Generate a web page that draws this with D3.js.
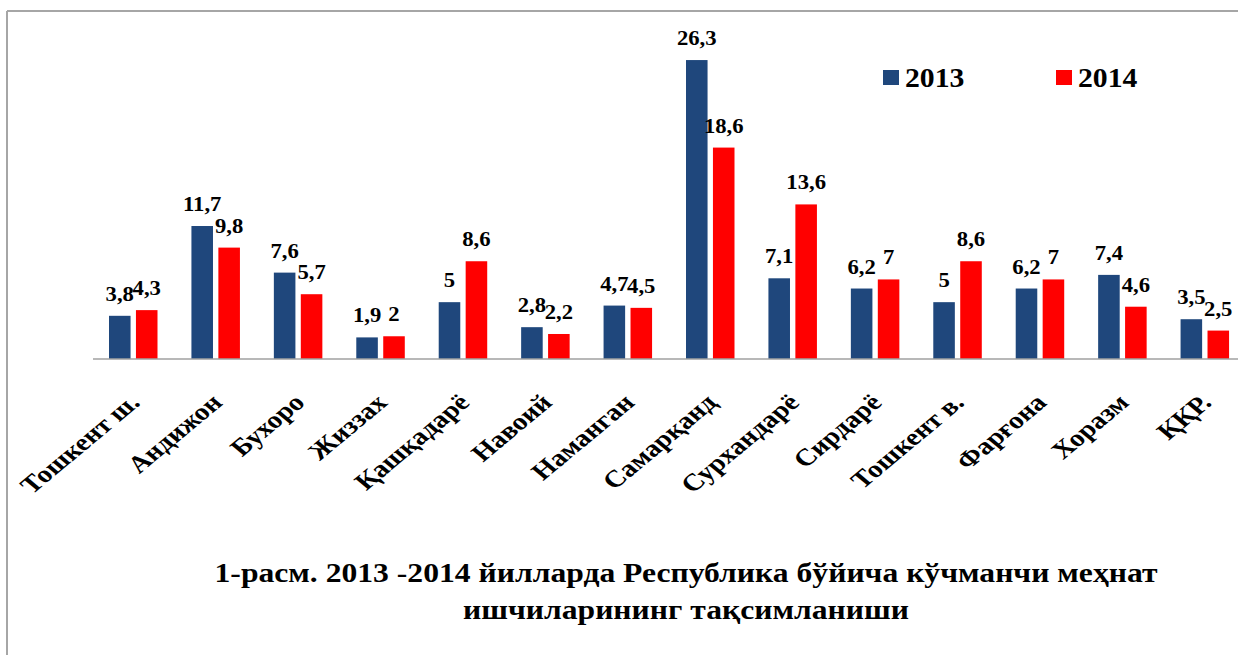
<!DOCTYPE html>
<html>
<head>
<meta charset="utf-8">
<script src="https://cdnjs.cloudflare.com/ajax/libs/d3/7.8.5/d3.min.js"></script>
<style>
  body { margin: 0; background: #fff; }
  text { font-family: "Liberation Serif", "Times New Roman", serif; font-weight: bold; fill: #000; }
</style>
</head>
<body>
<div id="chart-area"></div>
<script>
var regions = ["Тошкент ш.", "Андижон", "Бухоро", "Жиззах", "Қашқадарё", "Навоий", "Наманган",
               "Самарқанд", "Сурхандарё", "Сирдарё", "Тошкент в.", "Фарғона", "Хоразм", "ҚҚР."];
var series = ["2013", "2014"];
var values2013 = [3.8, 11.7, 7.6, 1.9, 5, 2.8, 4.7, 26.3, 7.1, 6.2, 5, 6.2, 7.4, 3.5];
var values2014 = [4.3, 9.8, 5.7, 2, 8.6, 2.2, 4.5, 18.6, 13.6, 7, 8.6, 7, 4.6, 2.5];
var titleLines = ["1-расм. 2013 -2014 йилларда Республика бўйича кўчманчи меҳнат",
                  "ишчиларининг тақсимланиши"];

var colors = { "2013": "#1f477c", "2014": "#ff0000" };

var W = 1238, H = 655;
var plot = { left: 93, right: 1247, top: 18, bottom: 359 };

var svg = d3.select("#chart-area")
    .append("svg")
        .attr("width", W)
        .attr("height", H);

// frame (left and top edges only are visible)
svg.append("line")
    .attr("x1", 7).attr("y1", 11).attr("x2", 7).attr("y2", H)
    .attr("stroke", "#a6a6a6").attr("stroke-width", 2);
svg.append("line")
    .attr("x1", 7).attr("y1", 11).attr("x2", W).attr("y2", 11)
    .attr("stroke", "#a6a6a6").attr("stroke-width", 2);

// scales
var x0 = d3.scaleBand()
    .domain(regions)
    .range([plot.left, plot.right]);

var x1 = d3.scaleBand()
    .domain(series)
    .range([16, 64.5])
    .paddingInner(0.2);

var y = d3.scaleLinear()
    .domain([0, 30])
    .range([plot.bottom, plot.top]);

var data = regions.map(function(r, i) {
    return { region: r, vals: [
        { key: "2013", value: values2013[i] },
        { key: "2014", value: values2014[i] }
    ] };
});

// bars
var groups = svg.selectAll("g.group")
    .data(data)
    .enter().append("g")
        .attr("class", "group")
        .attr("transform", function(d) { return "translate(" + x0(d.region) + ",0)"; });

groups.selectAll("rect")
    .data(function(d) { return d.vals; })
    .enter().append("rect")
        .attr("x", function(d) { return x1(d.key); })
        .attr("y", function(d) { return y(d.value); })
        .attr("width", x1.bandwidth())
        .attr("height", function(d) { return y(0) - y(d.value); })
        .attr("fill", function(d) { return colors[d.key]; });

// value labels
groups.selectAll("text.val")
    .data(function(d) { return d.vals; })
    .enter().append("text")
        .attr("class", "val")
        .attr("text-anchor", "middle")
        .attr("font-size", "21px")
        .attr("transform", function(d) {
            return "translate(" + (x1(d.key) + x1.bandwidth() / 2) + "," + (y(d.value) - 15) + ") scale(1.08,1)";
        })
        .text(function(d) { return String(d.value).replace(".", ","); });

// x axis line
svg.append("line")
    .attr("x1", plot.left).attr("x2", plot.right)
    .attr("y1", y(0)).attr("y2", y(0))
    .attr("stroke", "#a0a0a0").attr("stroke-width", 1.5);

// category labels
svg.selectAll("text.cat")
    .data(regions)
    .enter().append("text")
        .attr("class", "cat")
        .attr("text-anchor", "end")
        .attr("font-size", "24px")
        .attr("dy", "0.35em")
        .attr("transform", function(d) {
            return "translate(" + (x0(d) + x0.bandwidth() / 2) + ",398) scale(1.2,1) rotate(-45)";
        })
        .text(function(d) { return d; });

// legend
var legend = svg.selectAll("g.legend")
    .data(series)
    .enter().append("g")
        .attr("class", "legend")
        .attr("transform", function(d, i) { return "translate(" + (883 + i * 173) + ",70)"; });

legend.append("rect")
    .attr("width", 16).attr("height", 15)
    .attr("fill", function(d) { return colors[d]; });

legend.append("text")
    .attr("font-size", "27px")
    .attr("transform", "translate(22,17) scale(1.1,1)")
    .text(function(d) { return d; });

// title
svg.selectAll("text.title")
    .data(titleLines)
    .enter().append("text")
        .attr("class", "title")
        .attr("text-anchor", "middle")
        .attr("font-size", "28px")
        .attr("transform", function(d, i) { return "translate(686," + (582 + i * 37) + ") scale(1.13,1)"; })
        .text(function(d) { return d; });
</script>
</body>
</html>
